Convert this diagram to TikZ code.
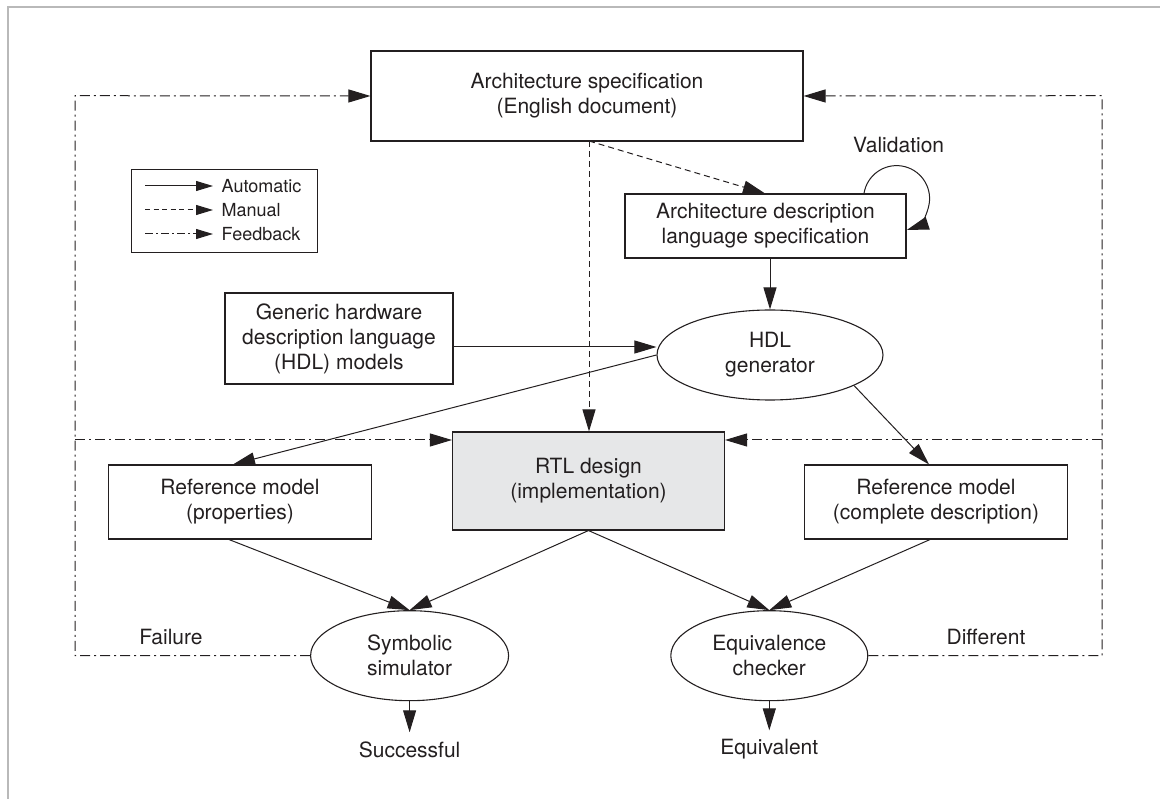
\documentclass[tikz,border=0pt]{standalone}
\usepackage{fontspec}
\setmainfont{TeX Gyre Heros}
\usetikzlibrary{arrows.meta,shapes.geometric}
\definecolor{ink}{RGB}{35,31,32}
\definecolor{rtlfill}{RGB}{230,231,232}
\begin{document}
\begin{tikzpicture}[x=1pt,y=-1pt,
  every node/.style={text=ink},
  txt/.style={font=\fontsize{21}{25}\selectfont, align=center, inner sep=0pt},
  boxnode/.style={txt, draw=ink, line width=1.1pt, rectangle},
  ellnode/.style={txt, draw=ink, line width=1.1pt, ellipse, inner sep=0pt},
  arr/.style={draw=ink, line width=1pt, -{Triangle[length=22pt,width=13pt]}},
  manual/.style={arr, dash pattern=on 6pt off 4pt},
  fb/.style={arr, dash pattern=on 10pt off 4pt on 2pt off 4pt},
  legarr/.style={draw=ink, line width=1pt, -{Triangle[length=17pt,width=10pt]}},
  legtxt/.style={font=\fontsize{18}{22}\selectfont, anchor=west, inner sep=0pt}
]
\useasboundingbox (0,0) rectangle (1160,799);
% page frame
\draw[gray!55, line width=1.5pt] (8,799) -- (8,7) -- (1160,7);

% boxes
\node[boxnode, minimum width=432pt, minimum height=90pt] (arch) at (587,96)
  {Architecture specification\\(English document)};
\node[boxnode, minimum width=281pt, minimum height=64pt] (adl) at (765.5,226)
  {Architecture description\\language specification};
\node[boxnode, minimum width=228pt, minimum height=91pt] (gen) at (339,338.5)
  {Generic hardware\\description language\\(HDL) models};
\node[ellnode, minimum width=226pt, minimum height=90pt] (hdl) at (770,355)
  {HDL\\generator};
\node[boxnode, fill=rtlfill, minimum width=272pt, minimum height=98pt] (rtl) at (588.5,481)
  {RTL design\\(implementation)};
\node[boxnode, minimum width=263pt, minimum height=74pt] (refL) at (240,502)
  {Reference model\\(properties)};
\node[boxnode, minimum width=263pt, minimum height=74pt] (refR) at (936,502)
  {Reference model\\(complete description)};
\node[ellnode, minimum width=198pt, minimum height=90pt] (sym) at (409.6,655.7)
  {Symbolic\\simulator};
\node[ellnode, minimum width=197pt, minimum height=90pt] (eqv) at (769.3,655.7)
  {Equivalence\\checker};
\node[txt] (succ) at (409.6,749.5) {Successful};
\node[txt] (equiv) at (769.3,749.5) {Equivalent};
\node[txt] (fail) at (171,637) {Failure};
\node[txt] (diff) at (986,637) {Different};
\node[txt] (valid) at (898.6,145) {Validation};

% legend
\node[draw=ink, line width=1.1pt, minimum width=186pt, minimum height=83.5pt, inner sep=0pt] (legend) at (224.2,211) {};
\coordinate (la1) at (145,186); \coordinate (la2) at (213,186);
\coordinate (lm1) at (145,210); \coordinate (lm2) at (213,210);
\coordinate (lf1) at (145,234); \coordinate (lf2) at (213,234);
\draw[legarr] (la1) -- (la2);
\draw[legarr, dash pattern=on 5pt off 3.5pt] (lm1) -- (lm2);
\draw[legarr, dash pattern=on 8pt off 3pt on 2pt off 3pt] (lf1) -- (lf2);
\node[legtxt] (lat) at (221.5,186) {Automatic};
\node[legtxt] (lmt) at (221.5,210) {Manual};
\node[legtxt] (lft) at (221.5,234) {Feedback};

% manual flows from the specification
\coordinate (specout) at (589,141);
\draw[manual] (specout) -- ([xshift=-0.5pt]adl.north);
\draw[manual] (specout) -- (specout |- rtl.north);

% validation loop on the ADL specification
\draw[arr] ([xshift=98.5pt]adl.north) arc[start angle=171, end angle=-72, radius=33pt];

% automatic flows
\draw[arr] (adl.south -| hdl.north) -- (hdl.north);
\draw[arr] ([yshift=-8.5pt]gen.east) -- ([yshift=-8.5pt]gen.east -| hdl.west);
\draw[arr] (hdl.west) -- ([xshift=-7pt]refL.north);
\draw[arr] (hdl.-20) -- ([xshift=-7pt]refR.north);
\draw[arr] ([xshift=-11pt]refL.south) -- (sym.north);
\draw[arr] (rtl.south) -- (sym.north);
\draw[arr] (rtl.south) -- (eqv.north);
\draw[arr] ([xshift=-6pt]refR.south) -- (eqv.north);
\draw[arr] (sym.south) -- ([yshift=9pt]succ.north);
\draw[arr] (eqv.south) -- ([yshift=9pt]equiv.north);

% feedback loops
\coordinate (fbTL) at (75,95.7);
\coordinate (fbML) at (75,440);
\coordinate (fbBL) at (75,655.7);
\coordinate (fbTR) at (1102,95.7);
\coordinate (fbMR) at (1102,440);
\coordinate (fbBR) at (1102,655.7);
\draw[fb] (sym.west) -- (fbBL) -- (fbTL) -- (arch.west);
\draw[fb] (fbML) -- (fbML -| rtl.west);
\draw[fb] (eqv.east) -- (fbBR) -- (fbTR) -- (arch.east);
\draw[fb] (fbMR) -- (fbMR -| rtl.east);
\end{tikzpicture}
\end{document}
